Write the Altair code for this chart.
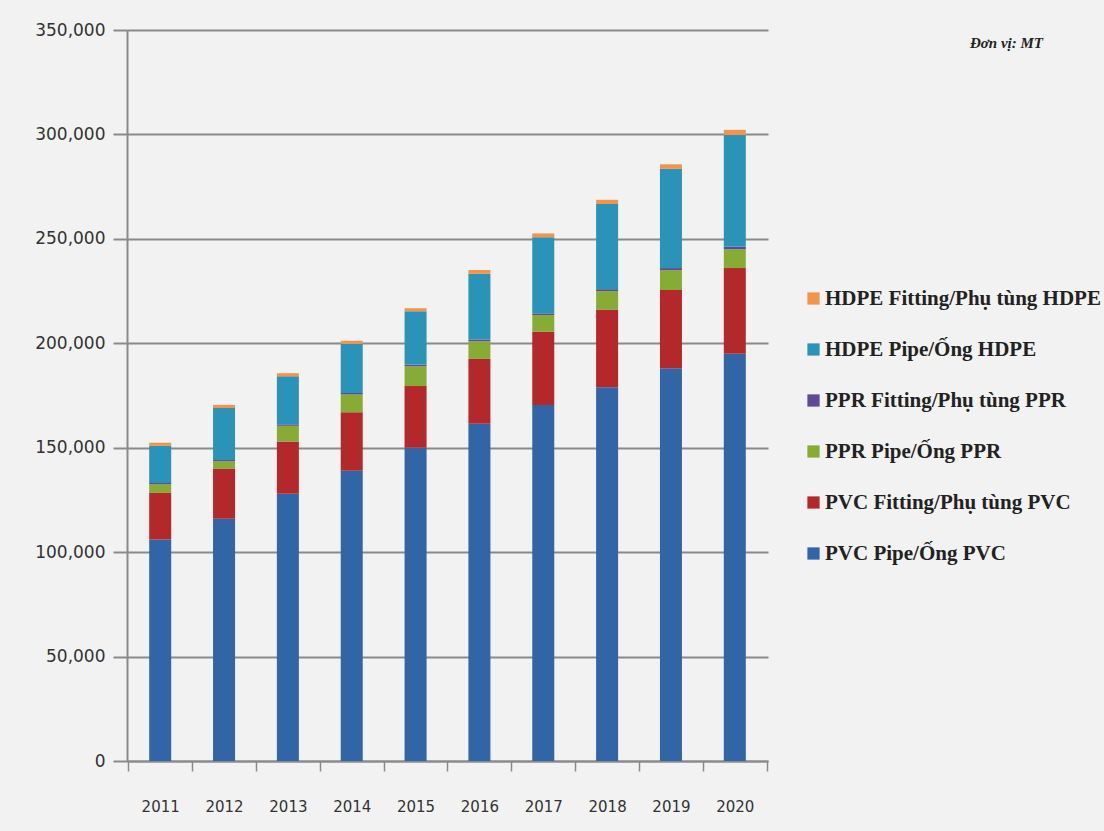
import altair as alt
import pandas as pd

years = ["2011", "2012", "2013", "2014", "2015", "2016", "2017", "2018", "2019", "2020"]

pvc_pipe = [106000, 116000, 128000, 139000, 150000, 161500, 170500, 179000, 188000, 195000]
pvc_fitting = [22500, 24000, 25000, 28000, 29500, 31000, 35000, 37000, 37500, 41000]
ppr_pipe = [4000, 3500, 7500, 8500, 9500, 8500, 8000, 9000, 9500, 9000]
ppr_fitting = [600, 600, 700, 700, 800, 800, 800, 900, 1000, 1200]
hdpe_pipe = [17800, 24900, 23000, 23500, 25500, 31500, 36500, 40800, 47500, 53500]
hdpe_fitting = [1500, 1500, 1500, 1500, 1500, 1800, 1800, 2000, 2200, 2500]

series_names = [
    "PVC Pipe/Ống PVC",
    "PVC Fitting/Phụ tùng PVC",
    "PPR Pipe/Ống PPR",
    "PPR Fitting/Phụ tùng PPR",
    "HDPE Pipe/Ống HDPE",
    "HDPE Fitting/Phụ tùng HDPE",
]
series_values = [pvc_pipe, pvc_fitting, ppr_pipe, ppr_fitting, hdpe_pipe, hdpe_fitting]
series_colors = ["#3165A5", "#B3292B", "#86AC36", "#5E4A96", "#2B93B7", "#F2954A"]

rows = []
for i, (name, vals) in enumerate(zip(series_names, series_values)):
    for y, v in zip(years, vals):
        rows.append({"Year": y, "Series": name, "Value": v, "order": i})
df = pd.DataFrame(rows)

legend_domain = list(reversed(series_names))
legend_range = list(reversed(series_colors))

chart = alt.Chart(df).mark_bar(size=22).encode(
    x=alt.X("Year:N", sort=years, title=None,
            scale=alt.Scale(paddingInner=0, paddingOuter=0.02),
            axis=alt.Axis(labelAngle=0, labelFont="DejaVu Sans", labelFontSize=15,
                          labelColor="#333333", domainColor="#8a8a8a", domainWidth=2,
                          tickBand="extent", tickColor="#8a8a8a", tickSize=10, tickWidth=1.5,
                          labelPadding=28, grid=False)),
    y=alt.Y("Value:Q", stack="zero", title=None,
            scale=alt.Scale(domain=[0, 350000], nice=False),
            axis=alt.Axis(values=[0, 50000, 100000, 150000, 200000, 250000, 300000, 350000],
                          format=",.0f", labelFont="DejaVu Sans", labelFontSize=17,
                          labelColor="#333333", domainColor="#8a8a8a", domainWidth=2,
                          tickColor="#8a8a8a", tickSize=14, tickWidth=2, labelPadding=8,
                          gridColor="#8a8a8a", gridWidth=2)),
    color=alt.Color("Series:N",
                    scale=alt.Scale(domain=legend_domain, range=legend_range),
                    legend=alt.Legend(title=None, orient="none", legendX=676, legendY=258,
                                      padding=0,
                                      symbolType="square", symbolSize=150, symbolStrokeWidth=0,
                                      labelFont="Liberation Serif", labelFontSize=21,
                                      labelFontWeight="bold", labelColor="#222222",
                                      rowPadding=29, labelLimit=400, labelOffset=1)),
    order=alt.Order("order:Q", sort="ascending"),
).properties(
    width=641,
    height=731,
    title=alt.TitleParams("Đơn vị: MT", anchor="end", orient="top", frame="group",
                          font="Liberation Serif", fontSize=15, fontStyle="italic",
                          fontWeight="bold", color="#222222", dx=275, dy=30, offset=0),
    background="#F2F2F2",
    padding={"left": 127, "top": 30, "right": 336, "bottom": 70},
    autosize=alt.AutoSizeParams(type="none"),
).configure_view(stroke=None)

chart.save("out.html", embed_options={"renderer": "svg", "actions": False})
